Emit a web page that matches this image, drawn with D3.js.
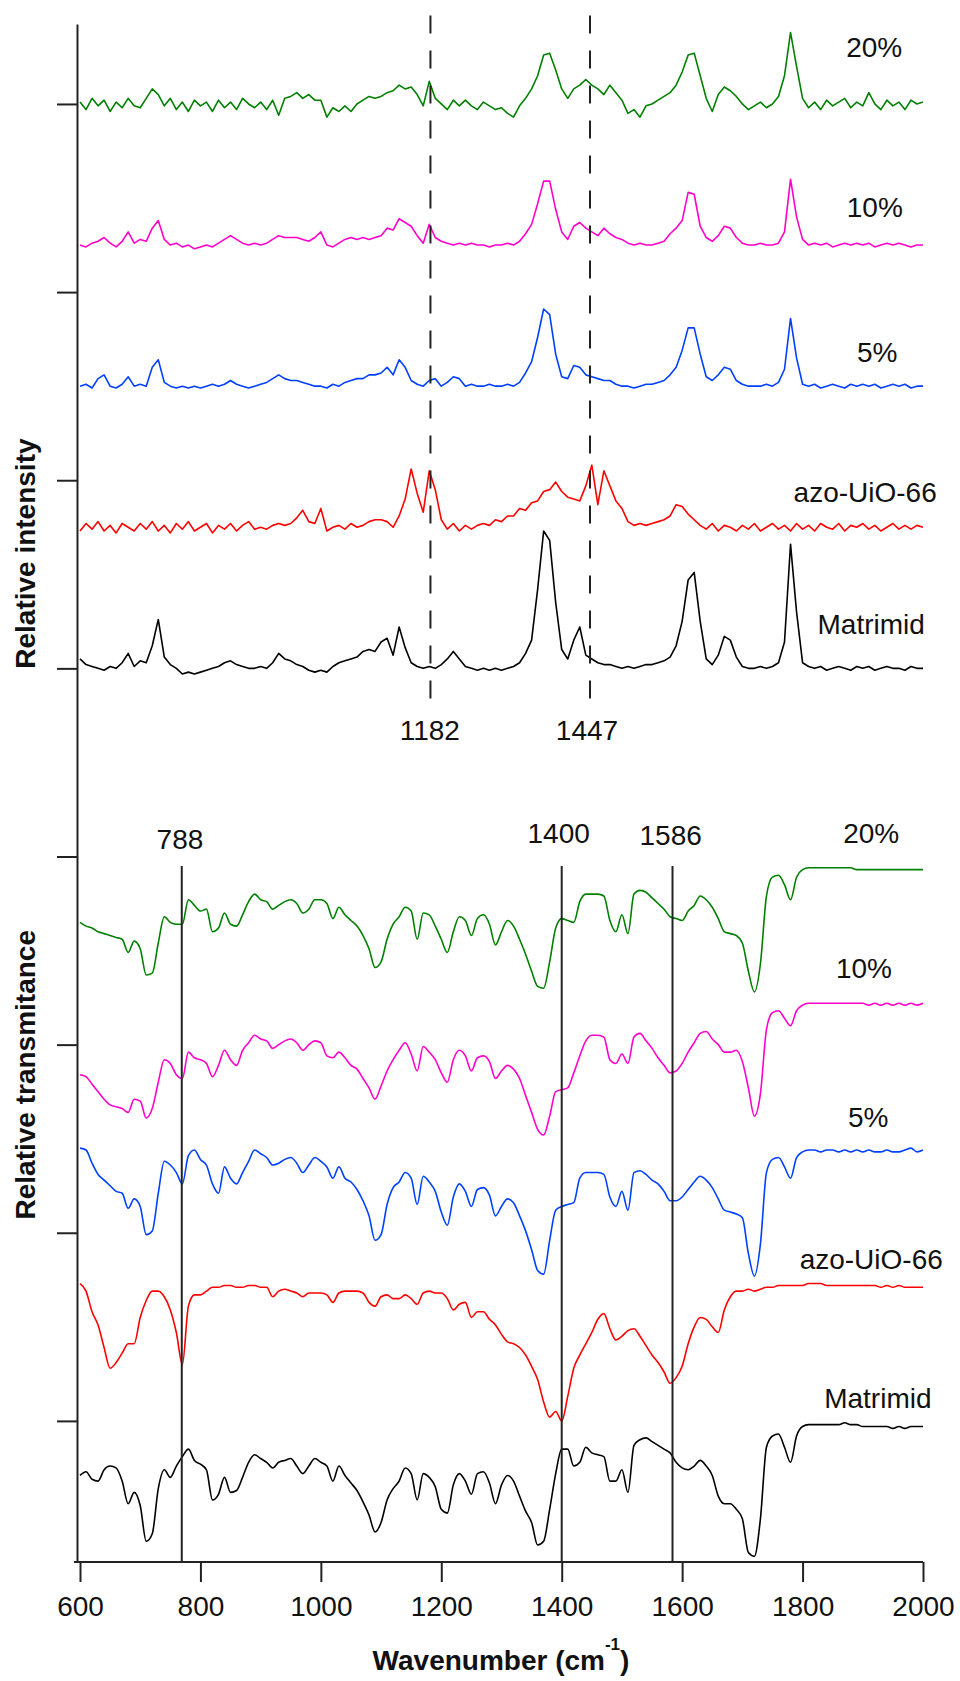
<!DOCTYPE html>
<html>
<head>
<meta charset="utf-8">
<script src="https://cdn.jsdelivr.net/npm/d3@7"></script>
<style>
    body { margin: 0; background: #fff; }
    text { font-family: "Liberation Sans", Arial, sans-serif; }
</style>
</head>
<body>
<div id="viz"></div>
<script>
// samples, top to bottom in each panel
var samples = ["20%", "10%", "5%", "azo-UiO-66", "Matrimid"];
var colors = ["#008000", "#ff00cc", "#0040ff", "#ff0000", "#000000"];

// wavenumber grid (cm-1) shared by all spectra
var wavenumbers = d3.range(600, 2001, 10);

// vertical stacking offsets (relative units, 100 = one tick)
var ramanOffsets = [700, 625, 550, 475, 400];
var irOffsets = [294, 222, 144, 71, -2];

// Raman spectra, intensity above baseline
var ramanGreen = [
    1, -3, 3, -1, 2, -4, 1, -2, 3, -1,
    -2, 3, 8, 5, -1, 3, -3, 1, -4, 2,
    -1, 1, -4, 2, -2, 1, -3, 3, 0, -2,
    1, -3, 2, -6, 3, 4, 6, 3, 5, 2,
    2, -7, -2, -4, -1, -4, 0, 2, 4, 3,
    4, 6, 7, 10, 8, 9, 5, -1, 12, 3,
    0, -3, 2, -1, 2, -1, -3, 1, -1, -3,
    -2, -5, -7, -1, 3, 8, 15, 26, 27, 18,
    8, 3, 8, 10, 13, 10, 8, 5, 10, 6,
    2, -5, -3, -7, -1, 0, 2, 4, 6, 10,
    17, 26, 27, 15, 3, -4, 5, 9, 7, 4,
    0, -3, -1, 1, -2, 0, 4, 15, 38, 20,
    3, -2, 1, -3, 2, -1, 1, 3, -2, 1,
    -1, 6, 0, -3, 2, -1, 1, -3, 2, 0,
    1];
var ramanMagenta = [
    0, -1, 1, 2, 4, 1, -1, 2, 7, 1,
    3, 2, 9, 13, 3, 0, 1, -1, 0, -2,
    -1, 0, -1, 1, 3, 5, 3, 1, 0, 1,
    0, 1, 3, 5, 4, 4, 4, 3, 2, 4,
    7, 0, -1, 1, 3, 4, 3, 4, 3, 4,
    5, 9, 8, 14, 12, 10, 5, 1, 11, 4,
    2, 1, 0, 1, 0, 1, 0, 0, -1, 0,
    0, 1, 0, 2, 6, 11, 22, 34, 34, 19,
    7, 3, 10, 12, 9, 7, 5, 9, 6, 4,
    3, 1, 0, 1, 0, 0, 1, 2, 6, 9,
    13, 28, 27, 10, 4, 2, 5, 10, 9, 4,
    1, 0, 0, 1, 0, 0, 1, 7, 35, 15,
    3, 0, 1, 0, 1, -1, 0, 1, 0, 1,
    0, 1, -1, 0, 1, 0, 1, 0, -1, 0,
    0];
var ramanBlue = [
    0, 1, -1, 4, 6, 0, -1, 1, 5, 0,
    1, 0, 10, 14, 2, 0, -1, 0, -1, 0,
    -1, 0, 1, 0, 1, 3, 1, 0, -1, 0,
    1, 2, 4, 6, 4, 3, 3, 2, 1, 0,
    0, -1, 1, 0, 2, 3, 4, 4, 6, 6,
    7, 10, 6, 14, 10, 3, 1, 0, 3, 4,
    0, 2, 5, 4, 0, 1, 0, 0, 1, 0,
    0, 1, 0, 2, 7, 13, 26, 41, 38, 17,
    5, 4, 11, 10, 6, 5, 4, 3, 3, 1,
    0, 0, -1, 0, 1, 1, 2, 3, 6, 10,
    19, 31, 31, 17, 5, 3, 6, 10, 9, 3,
    1, 0, 0, 0, 1, 0, 2, 9, 36, 15,
    1, 0, 1, -1, 0, 1, 0, -1, 1, 0,
    1, 0, 1, -1, 0, 1, 0, 1, -1, 0,
    0];
var ramanRed = [
    -2, 2, -1, 3, -2, 1, -3, 2, 0, -2,
    2, -1, 3, -2, 1, -3, 2, -1, 3, -2,
    0, 2, -3, 1, -1, 2, -2, 1, 3, -1,
    0, -1, 1, 2, 1, 2, 5, 9, 3, 2,
    10, -2, 0, 1, -1, 2, 0, 1, 3, 4,
    4, 3, 0, 6, 15, 31, 18, 8, 30, 20,
    4, -1, 2, -2, 1, -1, 1, 2, 1, 4,
    3, 6, 6, 10, 9, 13, 14, 19, 20, 24,
    19, 16, 15, 14, 22, 33, 12, 30, 22, 14,
    10, 3, 1, 2, 1, 2, 3, 4, 6, 12,
    11, 7, 4, 1, -1, 2, -2, 1, 0, -2,
    1, -1, 2, -2, 0, 2, -1, 1, -2, 2,
    -1, 1, -2, 2, 0, -1, 2, -2, 1, 0,
    2, -1, 1, -2, 0, 2, -1, 1, -1, 1,
    0];
var ramanBlack = [
    5, 2, 1, 0, -1, 1, 0, 3, 8, 1,
    4, 3, 12, 26, 6, 2, 0, -3, -2, -3,
    -2, -1, 0, 1, 3, 4, 2, 1, 0, 0,
    1, 0, 3, 8, 5, 4, 2, 1, -1, -2,
    -1, -2, 1, 3, 4, 5, 6, 9, 10, 9,
    14, 16, 7, 22, 11, 3, 1, 0, 1, 0,
    2, 5, 9, 5, 1, 0, -1, 0, -1, 0,
    -1, 0, 1, 3, 8, 15, 42, 73, 68, 35,
    10, 5, 15, 22, 7, 5, 3, 2, 2, 1,
    0, 1, 0, 1, 2, 2, 3, 4, 6, 12,
    25, 47, 51, 25, 5, 2, 7, 17, 15, 6,
    1, 0, 0, 1, 0, 1, 3, 14, 66, 30,
    3, 1, 0, 1, -1, 0, 1, 0, -1, 1,
    0, 1, -1, 0, 1, 0, 0, -1, 1, 0,
    0];

// IR spectra, transmittance relative to the 2000 cm-1 plateau
var irGreen = [
    -29, -31, -32, -34, -35, -36, -37, -38, -45, -39,
    -43, -57, -56, -40, -26, -29, -30, -30, -17, -20,
    -23, -22, -34, -32, -24, -30, -31, -25, -18, -14,
    -17, -18, -22, -20, -18, -17, -19, -24, -22, -17,
    -17, -19, -27, -21, -25, -28, -31, -36, -43, -53,
    -50, -38, -30, -26, -21, -23, -38, -24, -25, -31,
    -38, -45, -34, -26, -28, -36, -27, -25, -30, -41,
    -34, -28, -31, -38, -46, -55, -63, -64, -50, -32,
    -27, -28, -29, -18, -14, -14, -14, -15, -28, -34,
    -25, -35, -14, -12, -13, -16, -19, -22, -26, -27,
    -28, -23, -20, -15, -17, -21, -27, -34, -35, -36,
    -40, -55, -66, -51, -15, -5, -4, -9, -17, -5,
    -1, 0, 0, 0, 0, 0, 0, 0, 0, -1,
    -1, -1, -1, -1, -1, -1, -1, -1, -1, -1,
    -1];
var irMagenta = [
    -38, -39, -43, -47, -51, -54, -55, -56, -58, -51,
    -52, -61, -56, -42, -30, -32, -38, -40, -26, -29,
    -30, -32, -39, -33, -25, -30, -33, -25, -21, -17,
    -19, -20, -24, -22, -20, -19, -21, -25, -22, -20,
    -21, -28, -29, -26, -29, -33, -35, -40, -45, -51,
    -44, -36, -30, -25, -21, -27, -36, -23, -26, -30,
    -37, -42, -30, -25, -28, -36, -29, -28, -31, -40,
    -36, -33, -35, -40, -49, -58, -67, -70, -60, -47,
    -46, -45, -37, -28, -20, -17, -17, -18, -30, -32,
    -27, -32, -18, -16, -20, -24, -29, -33, -37, -36,
    -32, -26, -21, -16, -15, -19, -22, -26, -26, -25,
    -31, -45, -60, -48, -14, -5, -4, -8, -12, -4,
    -1, 0, 0, 0, 0, 0, 0, 0, 0, 0,
    0, -1, 0, -1, 0, -1, 0, -1, 0, -1,
    0];
var irBlue = [
    1, 0, -7, -13, -16, -19, -22, -23, -31, -26,
    -30, -45, -43, -23, -6, -8, -12, -18, -3, 0,
    -5, -8, -18, -23, -9, -15, -18, -12, -6, 0,
    -2, -4, -8, -7, -5, -4, -7, -12, -8, -4,
    -6, -9, -15, -9, -15, -17, -21, -27, -35, -48,
    -45, -29, -20, -17, -12, -15, -29, -14, -17, -22,
    -33, -40, -25, -18, -22, -30, -21, -20, -24, -35,
    -30, -26, -28, -35, -43, -53, -64, -66, -48, -32,
    -30, -29, -28, -15, -12, -12, -12, -13, -25, -30,
    -22, -32, -12, -11, -13, -16, -18, -22, -27, -27,
    -25, -21, -17, -14, -16, -20, -26, -32, -33, -34,
    -36, -55, -67, -50, -12, -5, -4, -9, -15, -4,
    -1, 0, 0, -1, 0, 0, -1, 0, -1, 0,
    -1, 0, -1, -1, 0, -1, -1, 0, 1, -1,
    0];
var irRed = [
    2, -2, -13, -20, -32, -43, -40, -35, -30, -30,
    -16, -7, -2, -2, -5, -12, -24, -41, -10, -4,
    -4, -2, 0, 0, 1, 1, 0, 0, 1, 1,
    0, 0, -5, -2, -1, -2, -3, -5, -3, -3,
    -3, -4, -8, -3, -2, -2, -2, -3, -8, -10,
    -5, -4, -6, -6, -4, -6, -9, -3, -2, -3,
    -3, -6, -12, -9, -8, -16, -13, -13, -17, -20,
    -25, -29, -30, -32, -36, -42, -49, -61, -69, -66,
    -71, -58, -43, -36, -30, -24, -17, -14, -22, -28,
    -26, -23, -22, -26, -31, -36, -40, -45, -51, -48,
    -42, -30, -21, -16, -17, -21, -24, -12, -5, -2,
    -2, -1, -2, -1, 0, 0, 1, 1, 1, 1,
    1, 2, 2, 2, 1, 1, 1, 1, 1, 1,
    1, 1, 1, 0, 1, 0, 1, 0, 0, 0,
    0];
var irBlack = [
    -27, -25, -29, -30, -24, -22, -23, -30, -42, -36,
    -43, -62, -58, -34, -24, -28, -22, -17, -13, -19,
    -21, -24, -40, -37, -28, -36, -35, -28, -20, -16,
    -18, -20, -23, -20, -19, -18, -22, -26, -22, -18,
    -20, -22, -30, -22, -27, -31, -35, -41, -48, -57,
    -52, -40, -34, -30, -23, -26, -40, -26, -28, -33,
    -45, -47, -32, -26, -30, -37, -26, -25, -31, -42,
    -32, -27, -30, -38, -46, -52, -64, -62, -45, -26,
    -13, -13, -22, -20, -12, -15, -16, -17, -30, -30,
    -24, -36, -11, -8, -7, -9, -11, -13, -15, -20,
    -23, -24, -22, -19, -22, -27, -38, -42, -42, -45,
    -50, -68, -70, -50, -12, -6, -5, -12, -20, -6,
    -1, 0, 0, 0, 0, 0, 0, 1, 0, 0,
    -1, -1, -1, -1, -1, -2, -1, -2, -1, -1,
    -1];

var ramanSeries = [ramanGreen, ramanMagenta, ramanBlue, ramanRed, ramanBlack];
var irSeries = [irGreen, irMagenta, irBlue, irRed, irBlack];

// marked bands
var ramanMarks = [1182, 1447];
var ramanMarkLabels = ["1182", "1447"];
var irMarks = [769, 1400, 1584];
var irMarkLabels = ["788", "1400", "1586"];

// axis ticks
var xTicks = [600, 800, 1000, 1200, 1400, 1600, 1800, 2000];
var yTicks = [0, 100, 200, 300, 400, 500, 600, 700];

drawChart();

function drawChart() {
    var width = 960;
    var height = 1681;
    var font = '"Liberation Sans", Arial, sans-serif';

    var svg = d3.select("#viz").append("svg")
        .attr("width", width)
        .attr("height", height);

    var x = d3.scaleLinear().domain([600, 2000]).range([80, 923]);
    var y = d3.scaleLinear().domain([-75, 742.5]).range([1562, 24]);

    var ramanLine = d3.line()
        .x(function (d) { return x(d[0]); })
        .y(function (d) { return y(d[1]); });
    // IR spectra are smooth in the original
    var irLine = d3.line()
        .curve(d3.curveMonotoneX)
        .x(function (d) { return x(d[0]); })
        .y(function (d) { return y(d[1]); });

    // spectra
    function drawSpectrum(values, offset, color, line) {
        var pts = values.map(function (v, i) {
            return [wavenumbers[i], offset + v];
        });
        svg.append("path")
            .attr("d", line(pts))
            .attr("fill", "none")
            .attr("stroke", color)
            .attr("stroke-width", 1.6)
            .attr("stroke-linejoin", "round");
    }
    ramanSeries.forEach(function (s, i) { drawSpectrum(s, ramanOffsets[i], colors[i], ramanLine); });
    irSeries.forEach(function (s, i) { drawSpectrum(s, irOffsets[i], colors[i], irLine); });

    // dashed Raman markers
    svg.selectAll(".rmark").data(ramanMarks).enter().append("line")
        .attr("class", "rmark")
        .attr("x1", function (d) { return x(d); })
        .attr("x2", function (d) { return x(d); })
        .attr("y1", y(747))
        .attr("y2", y(381))
        .attr("stroke", "#222")
        .attr("stroke-width", 2)
        .attr("stroke-dasharray", "18,17");

    // solid IR markers
    svg.selectAll(".imark").data(irMarks).enter().append("line")
        .attr("class", "imark")
        .attr("x1", function (d) { return x(d); })
        .attr("x2", function (d) { return x(d); })
        .attr("y1", y(295))
        .attr("y2", y(-75))
        .attr("stroke", "#222")
        .attr("stroke-width", 2);

    // marker labels
    var markLabelPos = [[1181, 362], [1442, 362]];
    svg.selectAll(".rlab").data(ramanMarkLabels).enter().append("text")
        .attr("class", "rlab")
        .attr("x", function (d, i) { return x(markLabelPos[i][0]); })
        .attr("y", function (d, i) { return y(markLabelPos[i][1]); })
        .attr("text-anchor", "middle")
        .style("font-size", "28px")
        .attr("fill", "#111")
        .text(function (d) { return d; });

    var irLabelPos = [[766, 304], [1395, 307], [1581, 306]];
    svg.selectAll(".ilab").data(irMarkLabels).enter().append("text")
        .attr("class", "ilab")
        .attr("x", function (d, i) { return x(irLabelPos[i][0]); })
        .attr("y", function (d, i) { return y(irLabelPos[i][1]); })
        .attr("text-anchor", "middle")
        .style("font-size", "28px")
        .attr("fill", "#111")
        .text(function (d) { return d; });

    // sample labels
    var ramanLabelPos = [[1919, 725], [1920, 640], [1924, 563], [1904, 488.5], [1914, 418]];
    var irNamePos = [[1914, 307], [1902, 235.5], [1909, 156], [1914, 81], [1925, 7]];
    samples.forEach(function (name, i) {
        svg.append("text")
            .attr("x", x(ramanLabelPos[i][0]))
            .attr("y", y(ramanLabelPos[i][1]))
            .attr("text-anchor", "middle")
            .style("font-size", "28px")
            .attr("fill", "#111")
            .text(name);
        svg.append("text")
            .attr("x", x(irNamePos[i][0]))
            .attr("y", y(irNamePos[i][1]))
            .attr("text-anchor", "middle")
            .style("font-size", "28px")
            .attr("fill", "#111")
            .text(name);
    });

    // x axis
    var gx = svg.append("g")
        .attr("transform", "translate(0," + y(-75) + ")")
        .call(d3.axisBottom(x).tickValues(xTicks).tickFormat(d3.format("d"))
            .tickSize(20).tickSizeOuter(0).tickPadding(14));
    gx.select(".domain").remove();
    gx.append("line")
        .attr("x1", x(590))
        .attr("x2", x(2000))
        .attr("stroke", "#222")
        .attr("stroke-width", 2);
    gx.selectAll(".tick line").attr("stroke", "#222").attr("stroke-width", 2);
    gx.selectAll(".tick text")
        .attr("fill", "#111")
        .style("font-size", "28px")
        .style("font-family", font);

    // y axis, ticks only
    var gy = svg.append("g")
        .attr("transform", "translate(" + x(595) + ",0)")
        .call(d3.axisLeft(y).tickValues(yTicks).tickSize(20).tickSizeOuter(0).tickFormat(""));
    gy.select(".domain").attr("stroke", "#222").attr("stroke-width", 2);
    gy.selectAll(".tick line").attr("stroke", "#222").attr("stroke-width", 2);

    // axis titles
    var xt = svg.append("text")
        .attr("x", 501)
        .attr("y", 1670)
        .attr("text-anchor", "middle")
        .style("font-size", "28px")
        .style("font-weight", "bold")
        .attr("fill", "#111");
    xt.append("tspan").text("Wavenumber (cm");
    xt.append("tspan").attr("dy", -20).style("font-size", "17px").text("-1");
    xt.append("tspan").attr("dy", 20).text(")");

    svg.append("text")
        .attr("transform", "translate(35," + y(461) + ") rotate(-90)")
        .attr("text-anchor", "middle")
        .style("font-size", "28px")
        .style("font-weight", "bold")
        .attr("fill", "#111")
        .text("Relative intensity");

    svg.append("text")
        .attr("transform", "translate(35," + y(184) + ") rotate(-90)")
        .attr("text-anchor", "middle")
        .style("font-size", "28px")
        .style("font-weight", "bold")
        .attr("fill", "#111")
        .text("Relative transmitance");
}
</script>
</body>
</html>
